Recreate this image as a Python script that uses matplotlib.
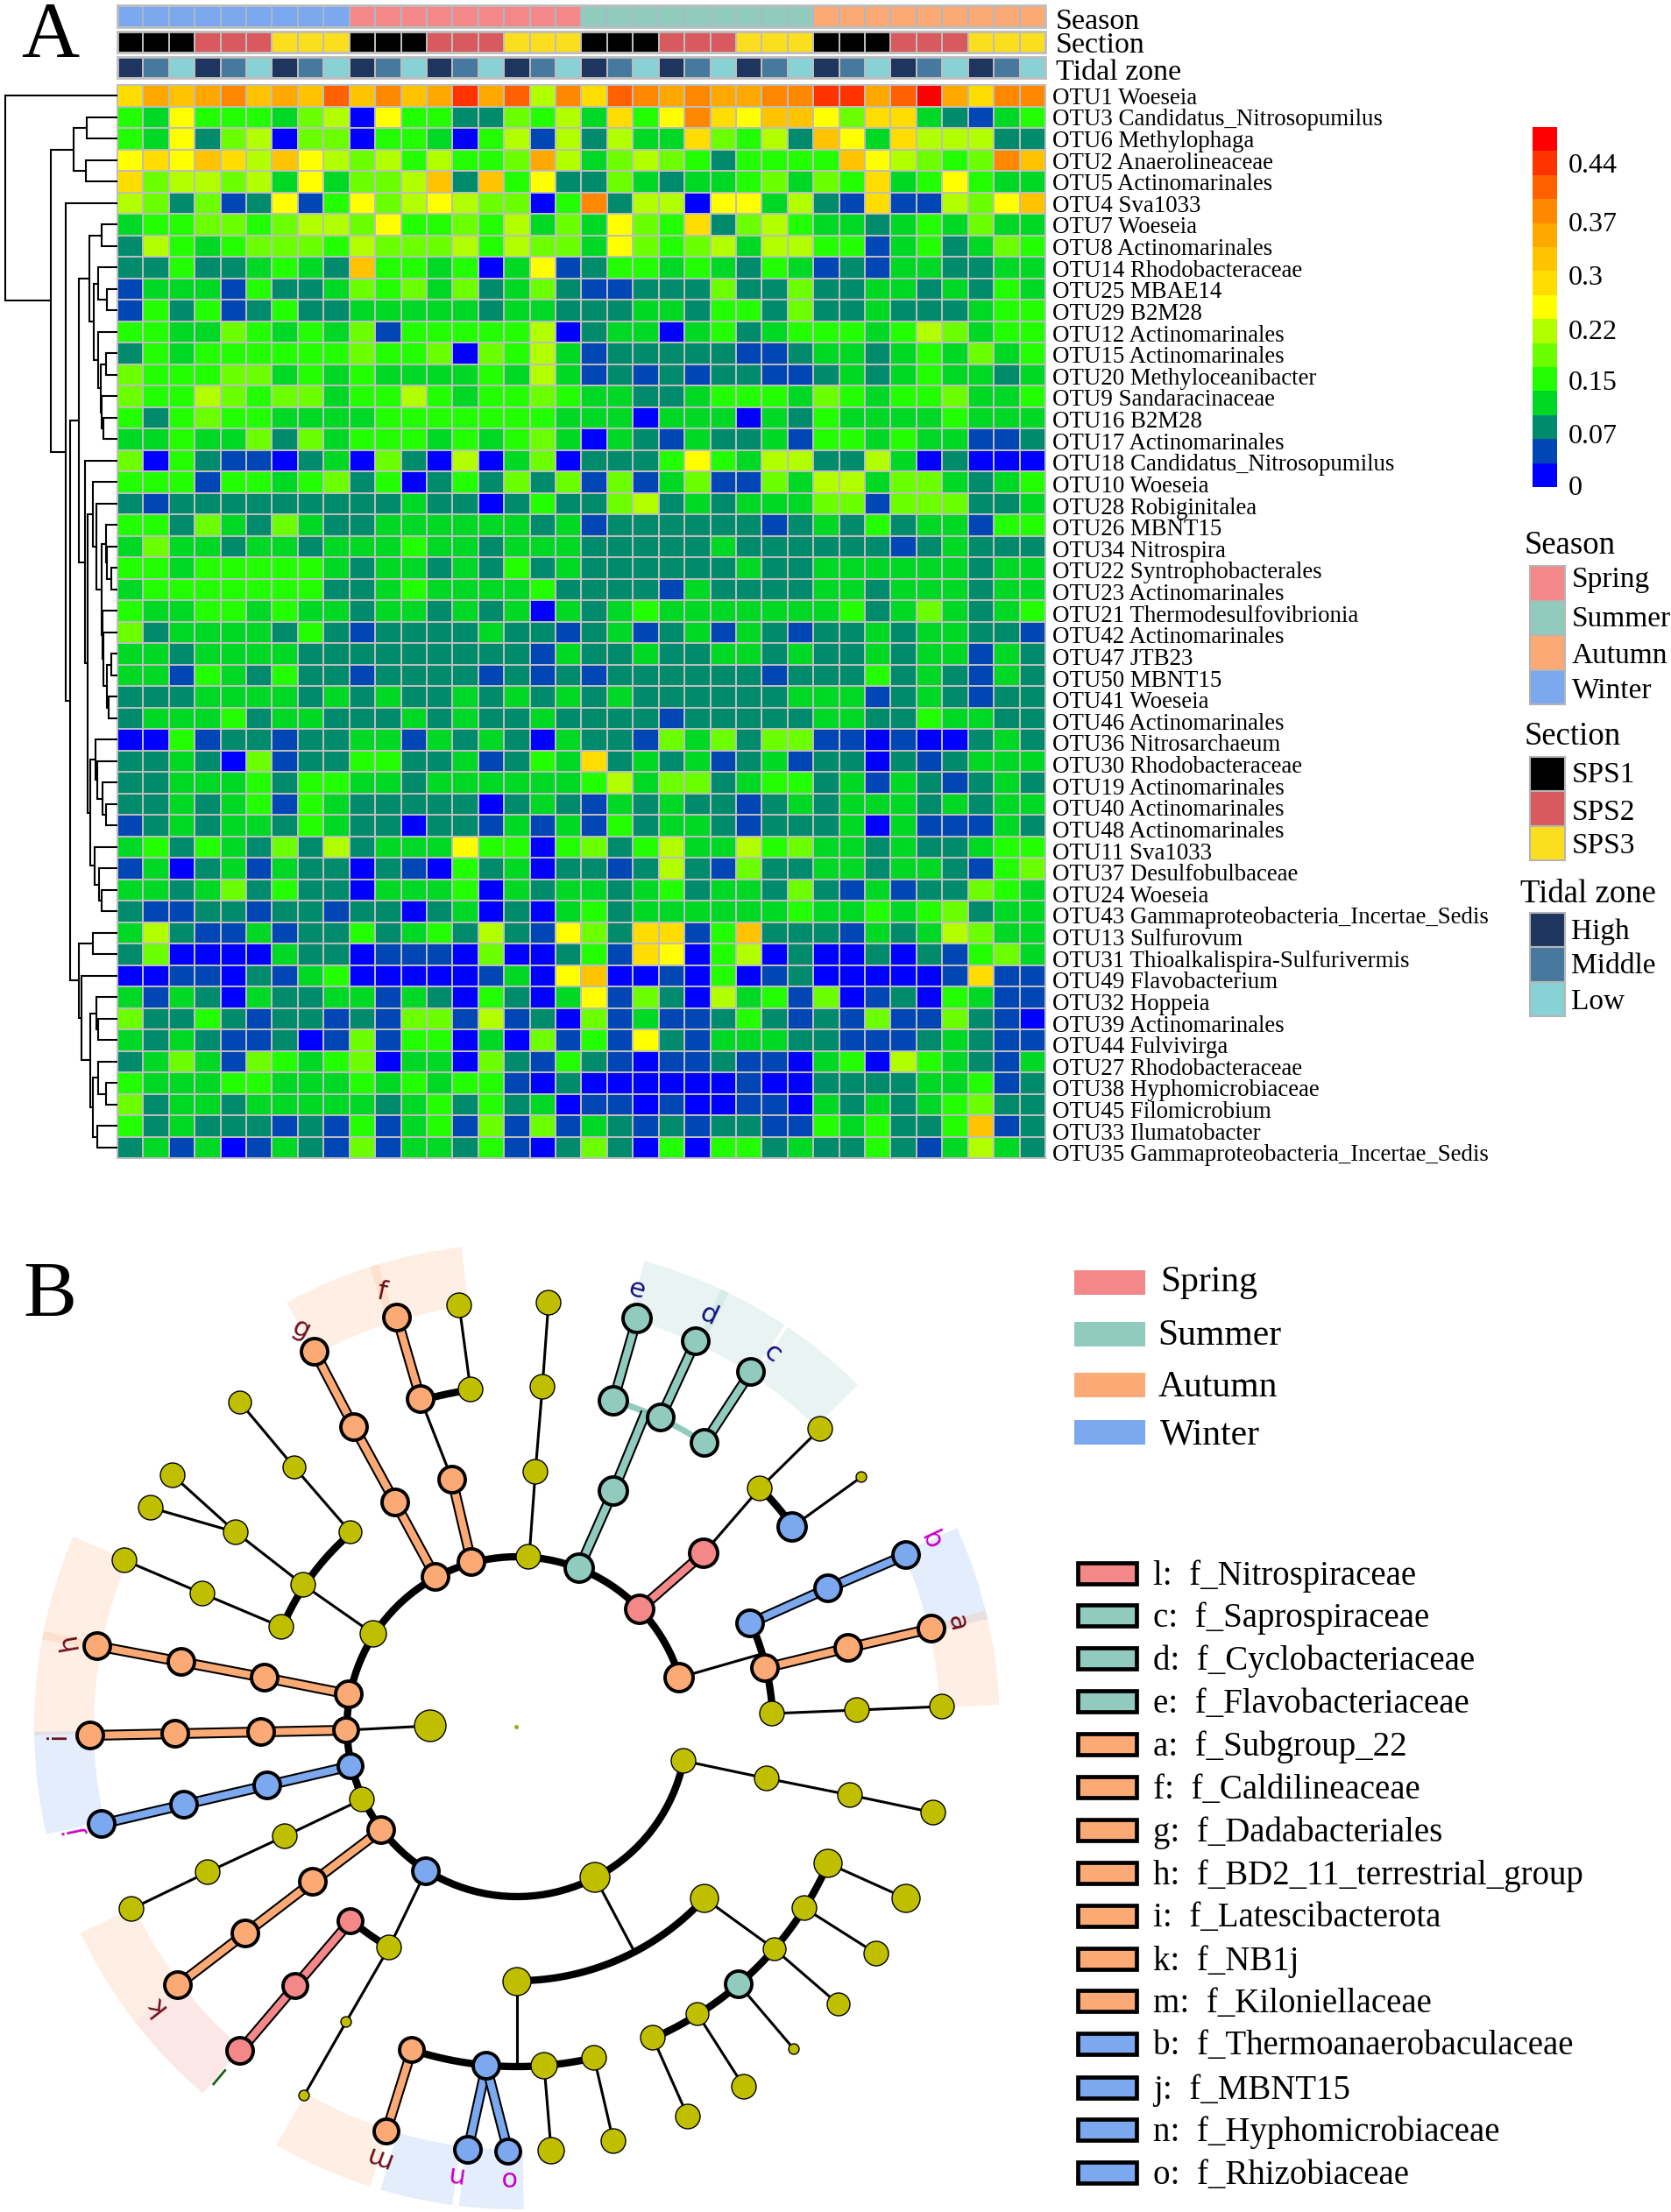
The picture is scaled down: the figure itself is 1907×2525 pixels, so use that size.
import numpy as np
import matplotlib
matplotlib.use("Agg")
import matplotlib.pyplot as plt
from matplotlib.colors import ListedColormap, BoundaryNorm
from matplotlib.patches import Rectangle, Wedge

plt.rcParams['font.family'] = ['Liberation Serif', 'DejaVu Serif']

W, H = 1908, 2525

# ---- panel A data ----
otu_labels = [
    "OTU1 Woeseia", "OTU3 Candidatus_Nitrosopumilus", "OTU6 Methylophaga", "OTU2 Anaerolineaceae",
    "OTU5 Actinomarinales", "OTU4 Sva1033", "OTU7 Woeseia", "OTU8 Actinomarinales",
    "OTU14 Rhodobacteraceae", "OTU25 MBAE14", "OTU29 B2M28", "OTU12 Actinomarinales",
    "OTU15 Actinomarinales", "OTU20 Methyloceanibacter", "OTU9 Sandaracinaceae", "OTU16 B2M28",
    "OTU17 Actinomarinales", "OTU18 Candidatus_Nitrosopumilus", "OTU10 Woeseia", "OTU28 Robiginitalea",
    "OTU26 MBNT15", "OTU34 Nitrospira", "OTU22 Syntrophobacterales", "OTU23 Actinomarinales",
    "OTU21 Thermodesulfovibrionia", "OTU42 Actinomarinales", "OTU47 JTB23", "OTU50 MBNT15",
    "OTU41 Woeseia", "OTU46 Actinomarinales", "OTU36 Nitrosarchaeum", "OTU30 Rhodobacteraceae",
    "OTU19 Actinomarinales", "OTU40 Actinomarinales", "OTU48 Actinomarinales", "OTU11 Sva1033",
    "OTU37 Desulfobulbaceae", "OTU24 Woeseia", "OTU43 Gammaproteobacteria_Incertae_Sedis", "OTU13 Sulfurovum",
    "OTU31 Thioalkalispira-Sulfurivermis", "OTU49 Flavobacterium", "OTU32 Hoppeia", "OTU39 Actinomarinales",
    "OTU44 Fulvivirga", "OTU27 Rhodobacteraceae", "OTU38 Hyphomicrobiaceae", "OTU45 Filomicrobium",
    "OTU33 Ilumatobacter", "OTU35 Gammaproteobacteria_Incertae_Sedis",
]

# colour step of each cell, one hex digit per sample (0 = lowest step of the colour bar)
heat_rows = [
    "8a9ab9a9c9b9adac6" "b8cbabaabbddacea8bb",
    "43744435607442254" "63847b8799758832134",
    "43725605504430461" "6263385462973866622",
    "7879869765646445a" "63565424444976545b9",
    "85665637355692947" "2253233453548347433",
    "65251271475676550" "4b26607736218116579",
    "34455456657445463" "5375482564332343533",
    "26434555465556465" "5375456366441342354",
    "22422343294434037" "1244343243121332233",
    "13331422354535235" "2112225225223323243",
    "14241242233333233" "2223324425223222344",
    "44335434351444446" "0233034234443465344",
    "24344444454450546" "3122222112332343534",
    "54445534343333436" "3121212211232343323",
    "54465455344643445" "4332234443543445334",
    "42454433334444444" "3330333032433334333",
    "33433525344434345" "3032132231443433112",
    "50421102305206035" "0222474366226302000",
    "44414434524024252" "5151351153663553234",
    "21222222222322024" "2256232333551555223",
    "44253253223333332" "3122222212324233144",
    "35332332333433233" "3222223222222123222",
    "44344444323323242" "3222222322333333233",
    "34444444223433334" "2222132222332333233",
    "43344343323323230" "3234333333342353234",
    "52333324212222322" "1231231321223233221",
    "33233332222222221" "3223223323223233132",
    "33143242212222121" "2122222212224232132",
    "22233332323223232" "3232222223331232122",
    "23334233222323223" "2222122222332243322",
    "00412212233132320" "3221535255110100232",
    "22320512244223124" "3823231231220212333",
    "22333424433233333" "3463552344231321232",
    "22323414322222023" "2132322123233323233",
    "12323324322022131" "3142332122230311132",
    "34243252623337440" "4524633645332322344",
    "13023132202104230" "2212621522332332145",
    "33235242203334032" "3323423325213122543",
    "21122122122023020" "3423333334334345233",
    "36211312242342621" "7528814922213236533",
    "25000032201110500" "2418704602002021453",
    "00110213400000130" "7900104012000001811",
    "31320322331320420" "3715206341501204311",
    "52242122121551612" "0513112421215115210",
    "32321120151440305" "1417213332211123211",
    "23531543450330521" "4210112110340643213",
    "43334433343434410" "2000000100222233412",
    "52332333332342423" "0110100110323234522",
    "42322212141341515" "1321212211434224912",
    "23130132151332410" "2520404423224213632",
]

step_colors = ["#0000ff", "#0047b5", "#008c6c", "#00d826", "#22ff00", "#6cff00", "#b2ff00", "#ffff00",
               "#ffdd00", "#ffc300", "#ffa800", "#ff8800", "#ff6000", "#ff3300", "#ff0000"]
bar_top = 0.489
bar_ticks = [0.002, 0.072, 0.145, 0.2145, 0.288, 0.361, 0.44]
bar_tick_labels = ["0", "0.07", "0.15", "0.22", "0.3", "0.37", "0.44"]

season_colors = {"Spring": "#f48788", "Summer": "#91cbbe", "Autumn": "#fcaa75", "Winter": "#7ba8ee"}
section_colors = {"SPS1": "#000000", "SPS2": "#d85a5e", "SPS3": "#fbdf1e"}
tidal_colors = {"High": "#1e365f", "Middle": "#47799f", "Low": "#88d2d5"}

season_track = ["Winter"] * 9 + ["Spring"] * 9 + ["Summer"] * 9 + ["Autumn"] * 9
section_track = (["SPS1"] * 3 + ["SPS2"] * 3 + ["SPS3"] * 3) * 4
tidal_track = ["High", "Middle", "Low"] * 12

# row tree: (height position, child, child); ints are rows
row_tree = (6, 0, (58,
    (84, (99, 1, 2), (98, 3, 4)),
    (75, 5, (80,
        (90,
            (102, (116, 6, 7), (107,
                (112, 8, (122, 9, 10)),
                (112, 11, (115, (121, 12, 13), (116, 14, (118, 15, 16)))))),
            (97, 17, (100,
                (106, 18, (110, 19, (116,
                    (121, 20, (122, 21, (127, 22, 23))),
                    (117, 24, (118, 25, (122, (127, 26, 27), (124, 28, 29))))))),
                (103,
                    (108.5, 30, (111, 31, (117, 32, (121, 33, 34)))),
                    (108, 35, (113, 36, (115.5, 37, 38))))))),
        (90,
            (106, 39, 40),
            (93, 41, (103,
                (110, 42, (112, 43, 44)),
                (106, (112, 45, (121, 46, 47)), (111, 48, 49)))))))))

# ---- panel B data (cladogram) ----
clade_center = (590, 1971)

# sectors: season, from angle, to angle, letter ring is the same for all
sectors = [
    ("Autumn", 96.6, 107.7), ("Autumn", 106.7, 118.5), ("Summer", 64.0, 74.7), ("Summer", 56.3, 65.0),
    ("Summer", 45.1, 55.9), ("Winter", 12.9, 24.3), ("Autumn", 2.6, 13.9), ("Autumn", 168.6, 181.0),
    ("Autumn", 156.8, 169.6), ("Winter", 180.6, 192.9), ("Autumn", 205.3, 217.6), ("Spring", 217.6, 229.4),
    ("Autumn", 240.1, 252.3), ("Winter", 253.6, 262.3), ("Winter", 263.1, 270.8),
]
ring_inner, ring_outer = 483, 551

thin_chains = [
    [(524, 1490), (537, 1586)],
    [(480, 1597), (516, 1689)],
    [(274, 1601), (336, 1675), (400, 1749)],
    [(197, 1684), (269, 1749), (346, 1809), (426, 1865)],
    [(172, 1721), (269, 1749)],
    [(142, 1781), (231, 1819), (321, 1857)],
    [(395, 1975), (491, 1970)],
    [(626, 1487), (619, 1583), (611, 1680), (604, 1777)],
    [(936, 1631), (867, 1699), (803, 1773)],
    [(983, 1686), (904, 1743)],
    [(775, 1915), (869, 1888)],
    [(881, 1956), (978, 1952), (1075, 1948)],
    [(780, 2010), (875, 2030), (970, 2049), (1065, 2069)],
    [(679, 2143), (723, 2226)],
    [(804, 2167), (884, 2225), (957, 2288)],
    [(918, 2178), (1000, 2230)],
    [(945, 2127), (1034, 2167)],
    [(843, 2265), (906, 2339)],
    [(796, 2299), (849, 2382)],
    [(745, 2326), (785, 2416)],
    [(590, 2262), (590, 2358)],
    [(621, 2358), (629, 2455)],
    [(678, 2349), (700, 2444)],
    [(486, 2136), (444, 2223), (395, 2308), (347, 2392)],
    [(413, 2054), (325, 2096), (237, 2137), (150, 2179)],
]

# thick arcs: radius, from angle, to angle
thick_arcs = [
    (194, 16.5, 348.5), (290, 270, 317.7), (388, 252, 283), (388, 294, 336.3), (388, 97.7, 106.3),
    (291, 130.4, 157), (292, 3, 23.8), (389, 35.9, 44.4), (291, 229.6, 240),
]
summer_arc = (388, 56.5, 73.4)

taxon_chains = {
    "Autumn": [
        [(453, 1504), (480, 1597)],
        [(359, 1543), (404, 1629), (451, 1715), (497, 1800)],
        [(516, 1689), (538, 1783)],
        [(111, 1879), (207, 1897), (302, 1915), (398, 1934)],
        [(103, 1981), (200, 1979), (298, 1977), (395, 1975)],
        [(203, 2266), (280, 2207), (357, 2148), (435, 2089)],
        [(441, 2433), (470, 2340)],
        [(1063, 1859), (968, 1881), (873, 1904)],
    ],
    "Summer": [
        [(727, 1505), (700, 1599)],
        [(794, 1531), (754, 1618)],
        [(857, 1566), (804, 1647)],
        [(737, 1612), (700, 1702), (661, 1790)],
    ],
    "Spring": [
        [(274, 2341), (337, 2267), (400, 2193)],
        [(803, 1773), (730, 1837)],
    ],
    "Winter": [
        [(116, 2082), (210, 2060), (305, 2038), (400, 2016)],
        [(1034, 1775), (945, 1813), (856, 1853)],
        [(534, 2454), (555, 2358)],
        [(580, 2456), (555, 2358)],
    ],
}

olive_nodes = [
    (524, 1490, 14), (537, 1586, 14), (603, 1777, 14), (274, 1601, 13), (336, 1675, 13), (400, 1749, 13),
    (197, 1684, 14), (172, 1721, 14), (269, 1749, 14), (346, 1809, 14), (142, 1781, 14), (231, 1819, 14),
    (321, 1857, 14), (426, 1865, 15), (491, 1970, 18), (626, 1487, 14), (619, 1583, 14), (611, 1680, 14),
    (936, 1631, 14), (867, 1699, 14), (983, 1686, 6), (881, 1956, 14), (978, 1952, 14), (1075, 1948, 14),
    (780, 2010, 14), (875, 2030, 14), (970, 2049, 14), (1065, 2069, 14), (679, 2143, 17), (590, 2262, 16),
    (804, 2167, 16), (945, 2127, 16), (1034, 2167, 16), (918, 2178, 14), (1000, 2230, 14), (884, 2225, 13),
    (957, 2288, 13), (906, 2339, 6), (796, 2299, 13), (849, 2382, 14), (745, 2326, 14), (785, 2416, 14),
    (621, 2358, 15), (678, 2349, 14), (629, 2455, 15), (700, 2444, 14), (413, 2054, 14), (325, 2096, 14),
    (237, 2137, 14), (150, 2179, 14), (444, 2223, 14), (395, 2308, 6), (347, 2392, 6),
]
root_node = (589, 1971, 2.5)
season_nodes = {
    "Autumn": [
        (453, 1504, 15), (480, 1597, 15), (516, 1689, 15), (359, 1543, 15), (404, 1629, 15), (451, 1715, 15),
        (538, 1783, 15), (497, 1800, 15), (111, 1879, 15), (207, 1897, 15), (302, 1915, 15), (398, 1934, 15),
        (103, 1981, 15), (200, 1979, 15), (298, 1977, 15), (395, 1975, 14), (203, 2266, 15), (280, 2207, 15),
        (357, 2148, 15), (435, 2089, 15), (470, 2340, 14), (441, 2433, 14), (1063, 1859, 15), (968, 1881, 15),
        (873, 1904, 15), (775, 1915, 16),
    ],
    "Summer": [
        (727, 1505, 16), (700, 1599, 16), (794, 1531, 15), (754, 1618, 15), (857, 1566, 15), (804, 1647, 15),
        (700, 1702, 16), (661, 1790, 16), (843, 2265, 15),
    ],
    "Spring": [(803, 1773, 16), (730, 1837, 16), (400, 2193, 14), (337, 2267, 14), (274, 2341, 15)],
    "Winter": [
        (904, 1743, 16), (1034, 1775, 15), (945, 1813, 15), (856, 1853, 15), (400, 2016, 14), (305, 2038, 15),
        (210, 2060, 15), (116, 2082, 15), (486, 2136, 15), (555, 2358, 15), (534, 2454, 15), (580, 2456, 14),
    ],
}

clade_letters = ["f", "g", "h", "i", "j", "k", "l", "m", "n", "o", "e", "d", "c", "b", "a"]
letter_x = [435, 344, 78, 66, 86, 177, 248, 430, 517, 579, 727, 809, 881, 1062, 1092]
letter_y = [1475, 1517, 1874, 1982, 2091, 2289, 2366, 2462, 2482, 2487, 1472, 1501, 1545, 1758, 1852]
letter_rot = [-12, -27, 100, 90, 102, 128, 140, 160, 172, 180, -15, -25, -40, -65, -77]
letter_colors = ["#6b0f1a"] * 4 + ["#c800c8"] + ["#6b0f1a"] + ["#0b5a0b"] + ["#6b0f1a"] + ["#c800c8"] * 2 \
    + ["#101080"] * 3 + ["#c800c8"] + ["#6b0f1a"]

family_labels = [
    "l:  f_Nitrospiraceae", "c:  f_Saprospiraceae", "d:  f_Cyclobacteriaceae", "e:  f_Flavobacteriaceae",
    "a:  f_Subgroup_22", "f:  f_Caldilineaceae", "g:  f_Dadabacteriales", "h:  f_BD2_11_terrestrial_group",
    "i:  f_Latescibacterota", "k:  f_NB1j", "m:  f_Kiloniellaceae", "b:  f_Thermoanaerobaculaceae",
    "j:  f_MBNT15", "n:  f_Hyphomicrobiaceae", "o:  f_Rhizobiaceae",
]
family_seasons = ["Spring"] + ["Summer"] * 3 + ["Autumn"] * 7 + ["Winter"] * 4
family_y = [1796, 1844, 1893, 1942, 1991, 2040, 2089, 2138, 2187, 2236, 2284, 2333, 2383, 2431, 2480]


def px_axes(x0, y0, x1, y1):
    ax = fig.add_axes([x0 / W, 1 - y1 / H, (x1 - x0) / W, (y1 - y0) / H])
    return ax


def draw_tree(ax, node):
    # returns y and height of the node
    if isinstance(node, int):
        return node + 0.5, 134
    x, a, b = node
    ya, xa = draw_tree(ax, a)
    yb, xb = draw_tree(ax, b)
    ax.plot([xa, x, x, xb], [ya, ya, yb, yb], color="black", lw=1.5, solid_joinstyle="miter")
    return (ya + yb) / 2, x


def track(box, names, colors, edge):
    ax = px_axes(*box)
    rgb = ListedColormap([colors[n] for n in colors])
    codes = [[list(colors).index(n) for n in names]]
    ax.pcolormesh(np.arange(37), [0, 1], codes, cmap=rgb, vmin=0, vmax=len(colors) - 1,
                  edgecolors=edge, linewidth=1.2)
    ax.set_axis_off()
    ax.add_patch(Rectangle((0, 0), 36, 1, fill=False, ec="#bdbdbd", lw=2, clip_on=False))


fig = plt.figure(figsize=(W / 100, H / 100), dpi=100, facecolor="white")

# heatmap
levels = np.array([[int(c, 16) for c in row] for row in heat_rows])
cmap = ListedColormap(step_colors)
norm = BoundaryNorm(np.arange(16) - 0.5, cmap.N)
ax_heat = px_axes(134, 97, 1193, 1322)
ax_heat.pcolormesh(np.arange(37), np.arange(51), levels, cmap=cmap, norm=norm,
                   edgecolors="#bdbdbd", linewidth=1.4)
ax_heat.set_ylim(50, 0)
ax_heat.set_xticks([])
ax_heat.yaxis.tick_right()
# the labels in the picture drift slightly below their rows towards the bottom
ax_heat.set_yticks(np.arange(50) * 1.005 + 0.5, otu_labels, fontsize=19.4)
ax_heat.tick_params(axis="y", length=0, pad=6)
for side in ax_heat.spines.values():
    side.set_color("#bdbdbd")
    side.set_linewidth(1.4)

# row dendrogram
ax_tree = px_axes(0, 97, 134, 1322)
ax_tree.set_xlim(0, 134)
ax_tree.set_ylim(50, 0)
ax_tree.set_axis_off()
draw_tree(ax_tree, row_tree)

# annotation tracks
track((134, 6, 1193, 31), season_track, season_colors, "#a9b9c6")
track((134, 36, 1193, 60), section_track, section_colors, "#bdbdbd")
track((134, 65, 1193, 89), tidal_track, tidal_colors, "#bdbdbd")

# colour bar
ax_bar = px_axes(1749, 145, 1777, 556)
ax_bar.pcolormesh([0, 1], np.linspace(0, bar_top, 16), np.arange(15).reshape(-1, 1), cmap=cmap, norm=norm)
ax_bar.set_xticks([])
ax_bar.yaxis.tick_right()
ax_bar.set_yticks(bar_ticks, bar_tick_labels, fontsize=23)
ax_bar.tick_params(axis="y", length=0, pad=9)
for side in ax_bar.spines.values():
    side.set_visible(False)

# page axes for everything placed by hand
page = fig.add_axes([0, 0, 1, 1], facecolor="none")
page.set_xlim(0, W)
page.set_ylim(H, 0)
page.set_axis_off()

page.text(24, 65, "A", fontsize=66, va="baseline")
page.text(26, 1503, "B", fontsize=66, va="baseline")

for label, y in zip(["Season", "Section", "Tidal zone"], [25, 52, 83]):
    page.text(1205, y, label, fontsize=24.5, va="center")


def side_legend(title, title_x, title_y, colors, top, step, text_x, text_y):
    page.text(title_x, title_y, title, fontsize=26.5, va="center")
    for i, name in enumerate(colors):
        page.add_patch(Rectangle((1746, top + i * step), 40, step, fc=colors[name], ec="#b5b5b5", lw=1.5))
        page.text(text_x, text_y[i], name, fontsize=24, va="center")


side_legend("Season", 1740, 623, season_colors, 646, 39.5, 1794, [662, 707, 749, 788])
side_legend("Section", 1740, 841, section_colors, 864, 39.3, 1794, [885, 928, 966])
side_legend("Tidal zone", 1735, 1021, tidal_colors, 1042, 39.3, 1793, [1064, 1103, 1144])

# cladogram
cx, cy = clade_center
for season, a0, a1 in sectors:
    page.add_patch(Wedge((cx, cy), ring_outer, -a1, -a0, width=ring_outer - ring_inner,
                         fc=season_colors[season], ec="none", alpha=0.2))


def arc_xy(r, a0, a1):
    t = np.radians(np.linspace(a0, a1, 120))
    return cx + r * np.cos(t), cy - r * np.sin(t)


for chain in thin_chains:
    xs, ys = zip(*chain)
    page.plot(xs, ys, color="black", lw=2.2, zorder=3)
for r, a0, a1 in thick_arcs:
    page.plot(*arc_xy(r, a0, a1), color="black", lw=6, solid_capstyle="butt", zorder=3)
page.plot(*arc_xy(*summer_arc), color=season_colors["Summer"], lw=5, solid_capstyle="butt", zorder=3)
for season, chains in taxon_chains.items():
    for chain in chains:
        xs, ys = zip(*chain)
        page.plot(xs, ys, color="black", lw=8.8, solid_capstyle="butt", zorder=4)
        page.plot(xs, ys, color=season_colors[season], lw=5.8, solid_capstyle="butt", zorder=4)

ox, oy, or_ = zip(*olive_nodes)
page.scatter(ox, oy, s=(2 * np.array(or_) * 0.72) ** 2, c="#bfbf00", edgecolors="black", linewidths=1.0, zorder=5)
page.scatter(root_node[0], root_node[1], s=(2 * root_node[2] * 0.72) ** 2, c="#a0a820", linewidths=0, zorder=5)
for season, nodes in season_nodes.items():
    nx, ny, nr = zip(*nodes)
    page.scatter(nx, ny, s=(2 * np.array(nr) * 0.72) ** 2, c=season_colors[season], edgecolors="black",
                 linewidths=2.8, zorder=5)

for letter, x, y, rot, col in zip(clade_letters, letter_x, letter_y, letter_rot, letter_colors):
    page.text(x, y, letter, color=col, fontsize=22, family="DejaVu Sans", rotation=rot,
              rotation_mode="anchor", ha="center", va="center", zorder=6)

# panel B legends
for name, y, tx, ty in zip(season_colors, [1450, 1509, 1567, 1621], [1324, 1321, 1322, 1324], [1464, 1525, 1584, 1638]):
    page.add_patch(Rectangle((1226, y), 81, 28, fc=season_colors[name], ec="none"))
    page.text(tx, ty, name, fontsize=30, va="center")

for label, season, y in zip(family_labels, family_seasons, family_y):
    page.add_patch(Rectangle((1230, y - 12), 67, 24, fc=season_colors[season], ec="black", lw=3.4))
    page.text(1316, y + 3, label, fontsize=28, va="center")

fig.savefig("out.png", dpi=100, facecolor="white")
